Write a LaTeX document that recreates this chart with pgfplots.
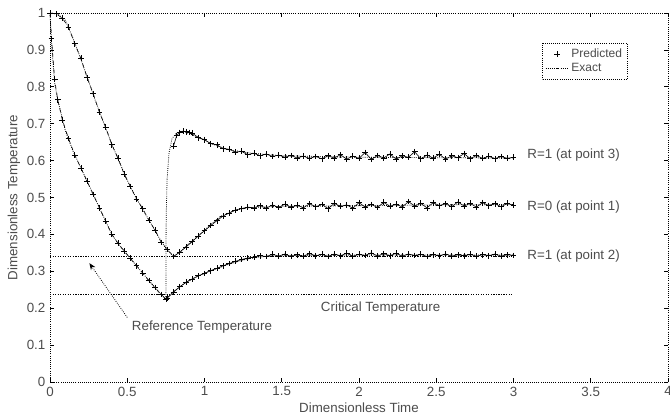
\documentclass[border=0pt]{standalone}
\usepackage{fontspec}
\setmainfont{Liberation Sans}
\usepackage{pgfplots}
\pgfplotsset{compat=1.18}
\usetikzlibrary{arrows.meta}
\begin{document}
\begin{tikzpicture}
\begin{axis}[
  at={(0,0)}, anchor=south west,
  scale only axis,
  width=463.5pt, height=276.75pt,
  xmin=0, xmax=4, ymin=0, ymax=1,
  xtick={0,0.5,...,4}, ytick={0,0.1,...,1},
  xticklabels={0,0.5,1,1.5,2,2.5,3,3.5,4},
  yticklabels={0,0.1,0.2,0.3,0.4,0.5,0.6,0.7,0.8,0.9,1},
  tick align=inside, major tick length=3pt,
  every tick/.style={black, line width=0.5pt},
  axis line style={densely dotted, line width=0.6pt},
  font=\fontsize{10}{12}\selectfont,
  /pgf/number format/assume math mode=true,
  tick label style={black!70},
  xlabel={Dimensionless Time}, ylabel={Dimensionless Temperature},
  label style={black!70},
  xlabel style={yshift=2pt},
  ylabel style={yshift=-2pt},
  clip=false,
  legend style={at={(0.935,0.919)}, anchor=north east, draw=black, densely dotted, line width=0.6pt,
    font=\fontsize{9}{11}\selectfont, text=black!70, inner sep=2pt, row sep=-1pt},
  legend cell align=left,
  pred/.style={mark=+, mark size=2.2pt, line width=0.45pt, black, mark options={solid, line width=0.5pt}, forget plot},
]
% legend entries
\addlegendimage{only marks, mark=+, mark size=2pt, black, solid}
\addlegendentry{Predicted}
\addlegendimage{densely dotted, black, line width=0.6pt}
\addlegendentry{Exact}

% reference and critical temperature lines
\addplot[densely dotted, line width=0.9pt, black, forget plot] coordinates {(0,0.340) (3,0.340)};
\addplot[densely dotted, line width=0.9pt, black, forget plot] coordinates {(0,0.2375) (3,0.2375)};

% exact curves
\addplot[densely dotted, line width=0.6pt, black, forget plot] coordinates {
(0,1) (0.05,0.997) (0.1,0.98) (0.15,0.93) (0.2,0.875) (0.25,0.815) (0.3,0.755) (0.35,0.70)
(0.4,0.645) (0.45,0.595) (0.5,0.547) (0.55,0.505) (0.6,0.468) (0.65,0.432) (0.7,0.395) (0.75,0.362) (0.8,0.34)
(0.85,0.355) (0.9,0.375) (0.97,0.40) (1.05,0.43) (1.1,0.448) (1.2,0.466) (1.3,0.473) (1.5,0.476) (2,0.478) (2.5,0.480) (3,0.481)};
\addplot[densely dotted, line width=0.6pt, black, forget plot] coordinates {
(0.75,0.225) (0.751,0.36) (0.752,0.45) (0.758,0.55) (0.77,0.62) (0.79,0.66) (0.82,0.675) (0.86,0.68)
(0.95,0.665) (1.05,0.645) (1.15,0.63) (1.3,0.62) (1.5,0.613) (2,0.609) (2.5,0.608) (3,0.607)};
\addplot[densely dotted, line width=0.6pt, black, forget plot] coordinates {
(0,1) (0.01,0.92) (0.03,0.81) (0.05,0.765) (0.1,0.68) (0.15,0.625) (0.2,0.58) (0.25,0.535) (0.3,0.49)
(0.35,0.445) (0.4,0.40) (0.45,0.37) (0.5,0.345) (0.55,0.32) (0.6,0.295) (0.65,0.27) (0.7,0.245) (0.75,0.225)
(0.8,0.245) (0.885,0.272) (1.0,0.295) (1.15,0.318) (1.27,0.333) (1.4,0.341) (1.6,0.343) (2,0.344) (3,0.344)};

% predicted: cooling, points 1 and 3
\addplot[pred, dashed] coordinates {
(0,1) (0.04,0.998) (0.08,0.986) (0.12,0.962) (0.16,0.917) (0.20,0.877) (0.24,0.825) (0.28,0.781)
(0.32,0.731) (0.36,0.691) (0.40,0.643) (0.44,0.607) (0.48,0.563) (0.52,0.530) (0.56,0.496) (0.60,0.470)
(0.64,0.438) (0.68,0.412) (0.72,0.378) (0.76,0.359) (0.80,0.340)};
% predicted: point 3 after
\addplot[pred] coordinates {
(0.80,0.640) (0.82,0.668) (0.84,0.676) (0.86,0.680) (0.88,0.678) (0.90,0.676)
(0.92,0.675) (0.96,0.662) (1.00,0.657) (1.04,0.646) (1.08,0.643) (1.12,0.632) (1.16,0.631) (1.20,0.623)
(1.24,0.625) (1.28,0.616) (1.32,0.620) (1.36,0.613) (1.40,0.618) (1.44,0.611) (1.48,0.615) (1.52,0.609)
(1.56,0.614) (1.60,0.607) (1.64,0.612) (1.68,0.606) (1.72,0.611) (1.76,0.605) (1.80,0.613) (1.84,0.607)
(1.88,0.616) (1.92,0.604) (1.96,0.612) (2.00,0.606) (2.04,0.622) (2.08,0.603) (2.12,0.614) (2.16,0.607)
(2.20,0.618) (2.24,0.604) (2.28,0.613) (2.32,0.609) (2.36,0.624) (2.40,0.605) (2.44,0.615) (2.48,0.607)
(2.52,0.617) (2.56,0.604) (2.60,0.613) (2.64,0.608) (2.68,0.619) (2.72,0.605) (2.76,0.614) (2.80,0.606)
(2.84,0.612) (2.88,0.605) (2.92,0.611) (2.96,0.606) (3.00,0.609)};
% predicted: point 1 after
\addplot[pred] coordinates {
(0.80,0.340) (0.84,0.352) (0.88,0.366) (0.92,0.380) (0.96,0.396) (1.00,0.410) (1.04,0.424) (1.08,0.437) (1.12,0.450)
(1.16,0.458) (1.20,0.466) (1.24,0.470) (1.28,0.474) (1.32,0.472) (1.36,0.478)
(1.40,0.471) (1.44,0.480) (1.48,0.473) (1.52,0.482) (1.56,0.474) (1.60,0.479) (1.64,0.472) (1.68,0.483)
(1.72,0.475) (1.76,0.481) (1.80,0.470) (1.84,0.484) (1.88,0.476) (1.92,0.480) (1.96,0.471) (2.00,0.486)
(2.04,0.474) (2.08,0.481) (2.12,0.473) (2.16,0.487) (2.20,0.476) (2.24,0.482) (2.28,0.474) (2.32,0.489)
(2.36,0.477) (2.40,0.484) (2.44,0.472) (2.48,0.486) (2.52,0.478) (2.56,0.483) (2.60,0.475) (2.64,0.488)
(2.68,0.477) (2.72,0.484) (2.76,0.474) (2.80,0.486) (2.84,0.478) (2.88,0.483) (2.92,0.475) (2.96,0.484) (3.00,0.479)};
% predicted: point 2 cooling
\addplot[pred, dashed] coordinates {
(0,1) (0.01,0.93) (0.03,0.82) (0.05,0.765) (0.08,0.710) (0.12,0.660) (0.16,0.615) (0.20,0.580)
(0.24,0.544) (0.28,0.508) (0.32,0.472) (0.36,0.436) (0.40,0.400) (0.44,0.376) (0.48,0.355) (0.52,0.335)
(0.56,0.315) (0.60,0.295) (0.64,0.275) (0.68,0.256) (0.72,0.237) (0.75,0.225)};
% predicted: point 2 after
\addplot[pred] coordinates {
(0.75,0.225) (0.76,0.228) (0.80,0.244) (0.84,0.258) (0.88,0.270) (0.92,0.279) (0.96,0.288) (1.00,0.294) (1.04,0.302)
(1.08,0.308) (1.12,0.315) (1.16,0.321) (1.20,0.327) (1.24,0.332) (1.28,0.336) (1.32,0.339) (1.36,0.342)
(1.40,0.340) (1.44,0.346) (1.48,0.341) (1.52,0.347) (1.56,0.340) (1.60,0.345) (1.64,0.341) (1.68,0.348)
(1.72,0.342) (1.76,0.346) (1.80,0.340) (1.84,0.347) (1.88,0.342) (1.92,0.349) (1.96,0.341) (2.00,0.346)
(2.04,0.343) (2.08,0.350) (2.12,0.341) (2.16,0.348) (2.20,0.342) (2.24,0.349) (2.28,0.341) (2.32,0.347)
(2.36,0.343) (2.40,0.346) (2.44,0.340) (2.48,0.345) (2.52,0.342) (2.56,0.347) (2.60,0.341) (2.64,0.345)
(2.68,0.342) (2.72,0.346) (2.76,0.341) (2.80,0.345) (2.84,0.342) (2.88,0.347) (2.92,0.341) (2.96,0.345) (3.00,0.343)};

% annotations
\node[anchor=west, text=black!70] at (axis cs:3.06,0.615) {R=1 (at point 3)};
\node[anchor=west, text=black!70] at (axis cs:3.06,0.475) {R=0 (at point 1)};
\node[anchor=west, text=black!70] at (axis cs:3.06,0.342) {R=1 (at point 2)};
\node[text=black!70] at (axis cs:2.14,0.20) {Critical Temperature};
\node[anchor=west, text=black!70] at (axis cs:0.50,0.149) {Reference Temperature};
\draw[densely dotted, line width=0.6pt, -{Stealth[length=5pt,width=4pt]}] (axis cs:0.50,0.175) -- (axis cs:0.255,0.322);
\end{axis}
\pgfresetboundingbox
\path (-37.5pt,-27.75pt) rectangle (465pt,286.5pt);
\end{tikzpicture}
\end{document}
